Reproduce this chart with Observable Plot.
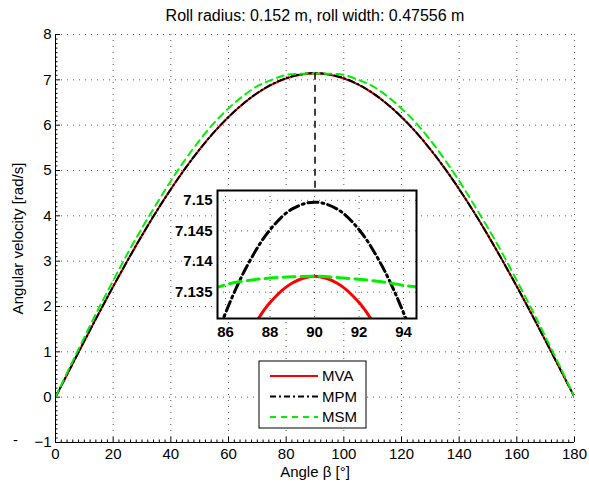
<!DOCTYPE html>
<html><head><meta charset="utf-8">
<script src="https://cdn.jsdelivr.net/npm/d3@7"></script>
<script src="https://cdn.jsdelivr.net/npm/@observablehq/plot@0.6"></script>
<style>
body{margin:0;background:#fff;}
#wrap{position:relative;width:589px;height:485px;font-family:"Liberation Sans",Arial,sans-serif;}
#wrap svg{position:absolute;overflow:visible;}
</style></head><body><div id="wrap"></div>
<script>
const title = "Roll radius: 0.152 m, roll width: 0.47556 m";
const xLabel = "Angle β [°]";
const yLabel = "Angular velocity [rad/s]";
const seriesNames = ["MVA", "MPM", "MSM"];
const seriesColors = ["#ff0000", "#000000", "#00f000"];

const angles = [0,5,10,15,20,25,30,35,40,45,50,55,60,65,70,75,80,85,86,87,88,89,90,91,92,93,94,95,100,105,110,115,120,125,130,135,140,145,150,155,160,165,170,175,180];
const mva = [0,0.622,1.239,1.847,2.441,3.016,3.569,4.094,4.588,5.047,5.468,5.847,6.181,6.469,6.707,6.894,7.029,7.1104,7.1202,7.1278,7.1333,7.1365,7.1376,7.1365,7.1333,7.1278,7.1202,7.1104,7.029,6.894,6.707,6.469,6.181,5.847,5.468,5.047,4.588,4.094,3.569,3.016,2.441,1.847,1.239,0.622,0];
const mpm = [0,0.622,1.239,1.847,2.441,3.016,3.569,4.094,4.588,5.047,5.468,5.847,6.181,6.469,6.71,6.90,7.037,7.1215,7.1316,7.1395,7.1452,7.1486,7.1497,7.1486,7.1452,7.1395,7.1316,7.1215,7.037,6.90,6.71,6.469,6.181,5.847,5.468,5.047,4.588,4.094,3.569,3.016,2.441,1.847,1.239,0.622,0];
const msm = [0,0.67,1.32,1.96,2.57,3.17,3.73,4.26,4.77,5.24,5.67,6.05,6.37,6.64,6.86,7.00,7.11,7.1345,7.1362,7.1369,7.1373,7.1375,7.1376,7.1374,7.1371,7.1367,7.1361,7.1352,7.11,7.00,6.86,6.64,6.37,6.05,5.67,5.24,4.77,4.26,3.73,3.17,2.57,1.96,1.32,0.67,0];

const xTicks = [0,20,40,60,80,100,120,140,160,180];
const yTicks = [-1,0,1,2,3,4,5,6,7,8];
const insetXTicks = [86,88,90,92,94];
const insetYTicks = [7.135,7.14,7.145,7.15];
const insetXDomain = [85.64, 94.58];
const insetYDomain = [7.1307, 7.1516];
const connector = [{x: 90, y1: 7.145, y2: 4.56}];

const W = 589, H = 485, mL = 55, mR = 15, mT = 34, mB = 43;
const plotW = W - mL - mR, plotH = H - mT - mB;
const font = "'Liberation Sans', Arial, sans-serif";

const series = [mva, mpm, msm].map((vals, k) =>
  angles.map((a, i) => ({angle: a, value: vals[i], name: seriesNames[k]})));

const mainStyles = [
  {stroke: seriesColors[0], strokeWidth: 2},
  {stroke: seriesColors[1], strokeWidth: 2, strokeDasharray: "7,3,1.5,3"},
  {stroke: seriesColors[2], strokeWidth: 2, strokeDasharray: "7,5"}
];
const insetStyles = [
  {stroke: seriesColors[0], strokeWidth: 3},
  {stroke: seriesColors[1], strokeWidth: 3, strokeDasharray: "10,4,2,4"},
  {stroke: seriesColors[2], strokeWidth: 3, strokeDasharray: "12,6"}
];
const legendDash = [null, "6,3,2,3", "6,5"];

const xMinor = d3.range(0, 181, 2).filter(v => !xTicks.includes(v));
const yMinor = d3.range(-10, 81, 1).map(v => v / 10).filter(v => !yTicks.includes(v));
const gridStyle = {stroke: "#000", strokeOpacity: 0.65, strokeDasharray: "1,5"};

const main = Plot.plot({
  width: W, height: H,
  marginLeft: mL, marginRight: mR, marginTop: mT, marginBottom: mB,
  x: {domain: [0, 180]},
  y: {domain: [-1, 8]},
  style: {fontFamily: font, fontSize: "15px", background: "transparent", color: "#000"},
  marks: [
    Plot.gridX(xTicks.filter(v => v > 0), gridStyle),
    Plot.gridY(yTicks.filter(v => v > -1), gridStyle),
    Plot.tickX(xMinor, {x: d => d, insetTop: plotH - 2.5, stroke: "#000"}),
    Plot.tickX(xTicks, {x: d => d, insetTop: plotH - 5, stroke: "#000"}),
    Plot.tickY(yMinor, {y: d => d, insetRight: plotW - 2.5, stroke: "#000"}),
    Plot.tickY(yTicks, {y: d => d, insetRight: plotW - 5, stroke: "#000"}),
    ...series.map((s, k) => Plot.line(s, {x: "angle", y: "value", curve: "catmull-rom", clip: true, ...mainStyles[k]})),
    Plot.ruleX(connector, {x: "x", y1: "y1", y2: "y2", stroke: "#000", strokeWidth: 1.5, strokeDasharray: "7,5"}),
    Plot.ruleY([-1], {stroke: "#000"}),
    Plot.ruleX([0], {stroke: "#000"}),
    Plot.axisX(xTicks, {tickSize: 0, tickPadding: 6, label: null}),
    Plot.axisY(yTicks, {tickSize: 0, tickPadding: 4, label: null, tickFormat: d => d < 0 ? "\u2212" + Math.abs(d) : String(d)}),
    Plot.text([title], {text: d => d, frameAnchor: "top", dy: -19, textAnchor: "middle", lineAnchor: "middle", fontSize: 16}),
    Plot.text([xLabel], {text: d => d, frameAnchor: "bottom", dy: 30, textAnchor: "middle", lineAnchor: "middle", fontSize: 15}),
    Plot.text([yLabel], {text: d => d, frameAnchor: "left", dx: -37, rotate: -90, textAnchor: "middle", lineAnchor: "middle", fontSize: 15}),
    Plot.text(["-"], {text: d => d, frameAnchor: "bottom-left", dx: -40, dy: -2, textAnchor: "middle", lineAnchor: "middle", fontSize: 15})
  ]
});
main.style.left = "0px"; main.style.top = "0px";
document.getElementById("wrap").appendChild(main);

// inset
const iL = 60, iR = 12, iT = 10, iB = 30, iW = 199, iH = 128;
const inset = Plot.plot({
  width: iL + iW + iR, height: iT + iH + iB,
  marginLeft: iL, marginRight: iR, marginTop: iT, marginBottom: iB,
  x: {domain: insetXDomain},
  y: {domain: insetYDomain},
  style: {fontFamily: font, fontSize: "15px", fontWeight: "bold", background: "transparent", color: "#000"},
  marks: [
    Plot.frame({fill: "white", stroke: null}),
    Plot.gridX(insetXTicks, gridStyle),
    Plot.gridY(insetYTicks, gridStyle),
    ...series.map((s, k) => Plot.line(s, {x: "angle", y: "value", curve: "catmull-rom", clip: true, ...insetStyles[k]})),
    Plot.frame({stroke: "#000", strokeWidth: 2}),
    Plot.axisX(insetXTicks, {tickSize: 0, tickPadding: 8, label: null, fontWeight: "bold"}),
    Plot.axisY(insetYTicks, {tickSize: 0, tickPadding: 5, label: null, fontWeight: "bold", tickFormat: d => String(d)})
  ]
});
inset.style.left = (217 - iL) + "px"; inset.style.top = (190 - iT) + "px";
document.getElementById("wrap").appendChild(inset);

// legend
const leg = d3.create("svg").attr("width", 110).attr("height", 70)
  .style("left", "258px").style("top", "360px");
leg.append("rect").attr("x", 1).attr("y", 1).attr("width", 107).attr("height", 67)
  .attr("fill", "white").attr("stroke", "#000").attr("stroke-width", 1);
seriesNames.forEach((n, i) => {
  const y = 16 + i * 20.5;
  leg.append("line").attr("x1", 12).attr("x2", 60).attr("y1", y).attr("y2", y)
    .attr("stroke", seriesColors[i]).attr("stroke-width", 2)
    .attr("stroke-dasharray", legendDash[i]);
  leg.append("text").attr("x", 64).attr("y", y).attr("dy", "0.35em")
    .attr("font-family", font).attr("font-size", 15).text(n);
});
document.getElementById("wrap").appendChild(leg.node());
</script></body></html>
